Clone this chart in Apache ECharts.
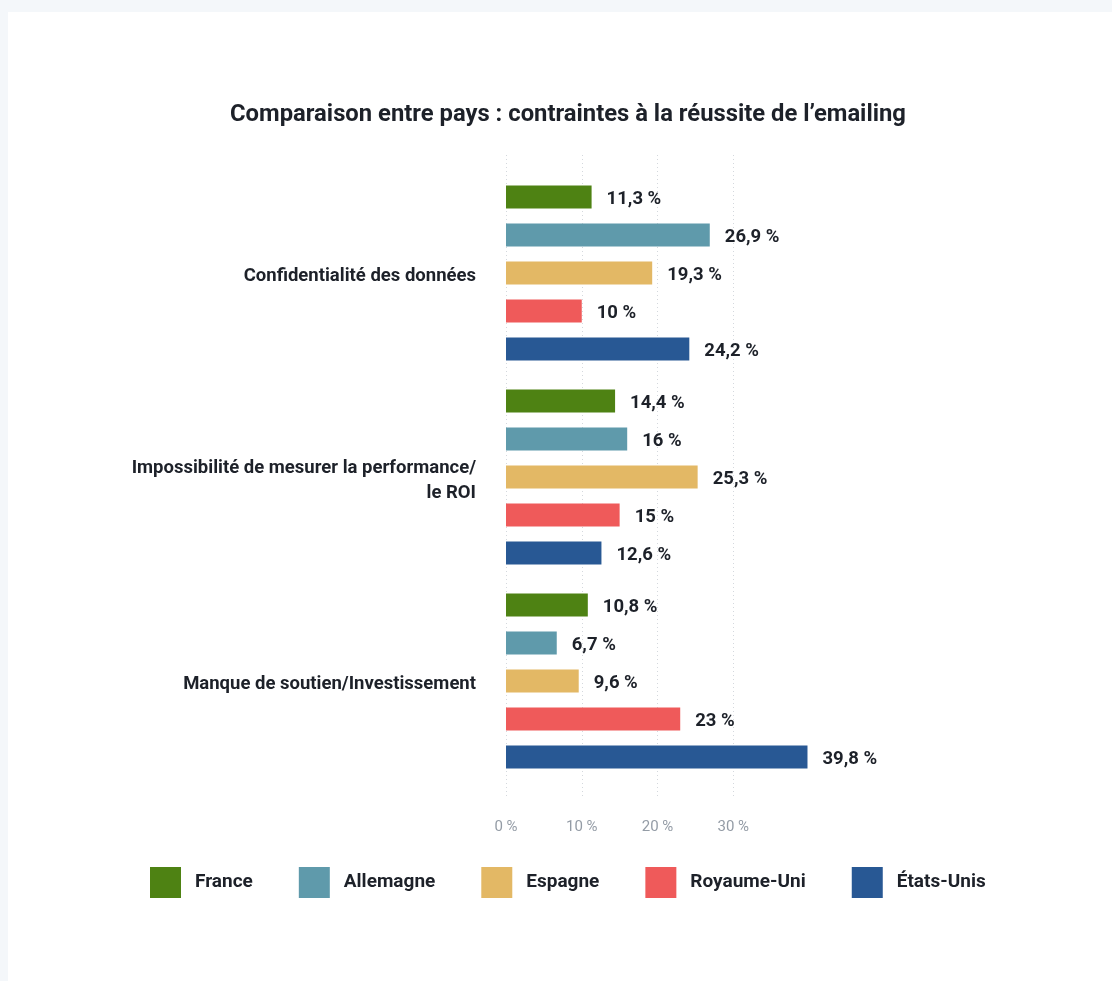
<!DOCTYPE html>
<html>
<head>
<meta charset="utf-8">
<script src="https://cdn.jsdelivr.net/npm/echarts@6/dist/echarts.min.js"></script>
<style>
  html, body { margin: 0; padding: 0; background: #f4f7fa; }
  #card { position: absolute; left: 8px; top: 12px; right: 0; bottom: 0; background: #ffffff; }
  #chart { position: absolute; left: 0; top: 0; width: 1112px; height: 981px; }
</style>
</head>
<body>
<div id="card"></div>
<div id="chart"></div>
<script>
const titleText = "Comparaison entre pays : contraintes à la réussite de l’emailing";
const categories = [
  "Confidentialité des données",
  "Impossibilité de mesurer la performance/\nle ROI",
  "Manque de soutien/Investissement"
];
const seriesNames = ["France", "Allemagne", "Espagne", "Royaume-Uni", "États-Unis"];
const france = [11.3, 14.4, 10.8];
const allemagne = [26.9, 16, 6.7];
const espagne = [19.3, 25.3, 9.6];
const royaumeUni = [10, 15, 23];
const etatsUnis = [24.2, 12.6, 39.8];
const xTicks = [0, 10, 20, 30];

const colors = ["#4e8213", "#5f9aab", "#e3b865", "#ef5a5a", "#285894"];
const values = [france, allemagne, espagne, royaumeUni, etatsUnis];
const textColor = "#1d2129";
const font = "Roboto, 'Noto Sans', sans-serif";

const chart = echarts.init(document.getElementById('chart'), null, { renderer: 'canvas' });

const fmt = v => String(v).replace('.', ',') + ' %';

const option = {
  backgroundColor: 'transparent',
  animation: false,
  textStyle: { fontFamily: font },
  title: {
    text: titleText,
    left: 563,
    top: 98,
    textAlign: 'center',
    textStyle: { fontSize: 23.8, fontWeight: 'bold', color: textColor, fontFamily: font }
  },
  legend: {
    left: 145,
    top: 862,
    icon: 'rect',
    itemWidth: 31,
    itemHeight: 31,
    itemGap: 46,
    data: seriesNames,
    textStyle: { fontSize: 19, fontWeight: 'bold', color: textColor, fontFamily: font, padding: [3, 0, 0, 9] }
  },
  grid: [
    { left: 506, top: 171, width: 303, height: 612, containLabel: false },
    { left: 506, top: 155, width: 227.25, height: 642, containLabel: false }
  ],
  xAxis: [
    { type: 'value', gridIndex: 0, min: 0, max: 40, show: false },
    {
      type: 'value', gridIndex: 1, min: 0, max: xTicks[xTicks.length - 1], interval: 10,
      axisLine: { show: false }, axisTick: { show: false },
      splitLine: { show: true, lineStyle: { type: [1, 3], color: '#d4d8dd', width: 1 } },
      axisLabel: { formatter: '{value} %', color: '#949ca6', fontSize: 15, margin: 23, fontFamily: font }
    }
  ],
  yAxis: [
    {
      type: 'category', gridIndex: 0, data: categories, inverse: true,
      axisLine: { show: false }, axisTick: { show: false }, splitLine: { show: false },
      axisLabel: {
        margin: 30, align: 'right',
        formatter: v => '{a|' + v.split('\n').join('}\n{a|') + '}',
        rich: { a: { fontSize: 18.5, fontWeight: 'bold', color: textColor, lineHeight: 25, fontFamily: font, align: 'right', padding: [7, 0, 0, 0] } }
      }
    },
    { type: 'value', gridIndex: 1, show: false, min: 0, max: 1 }
  ],
  series: seriesNames.map((name, i) => ({
    name: name,
    type: 'bar',
    xAxisIndex: 0,
    yAxisIndex: 0,
    data: values[i],
    barWidth: 23,
    barGap: '65%',
    itemStyle: { color: colors[i] },
    label: {
      show: true, position: 'right', distance: 15, offset: [0, 2],
      formatter: p => fmt(p.value),
      fontSize: 18.5, fontWeight: 'bold', color: textColor, fontFamily: font
    }
  }))
};
chart.setOption(option);
</script>
</body>
</html>
